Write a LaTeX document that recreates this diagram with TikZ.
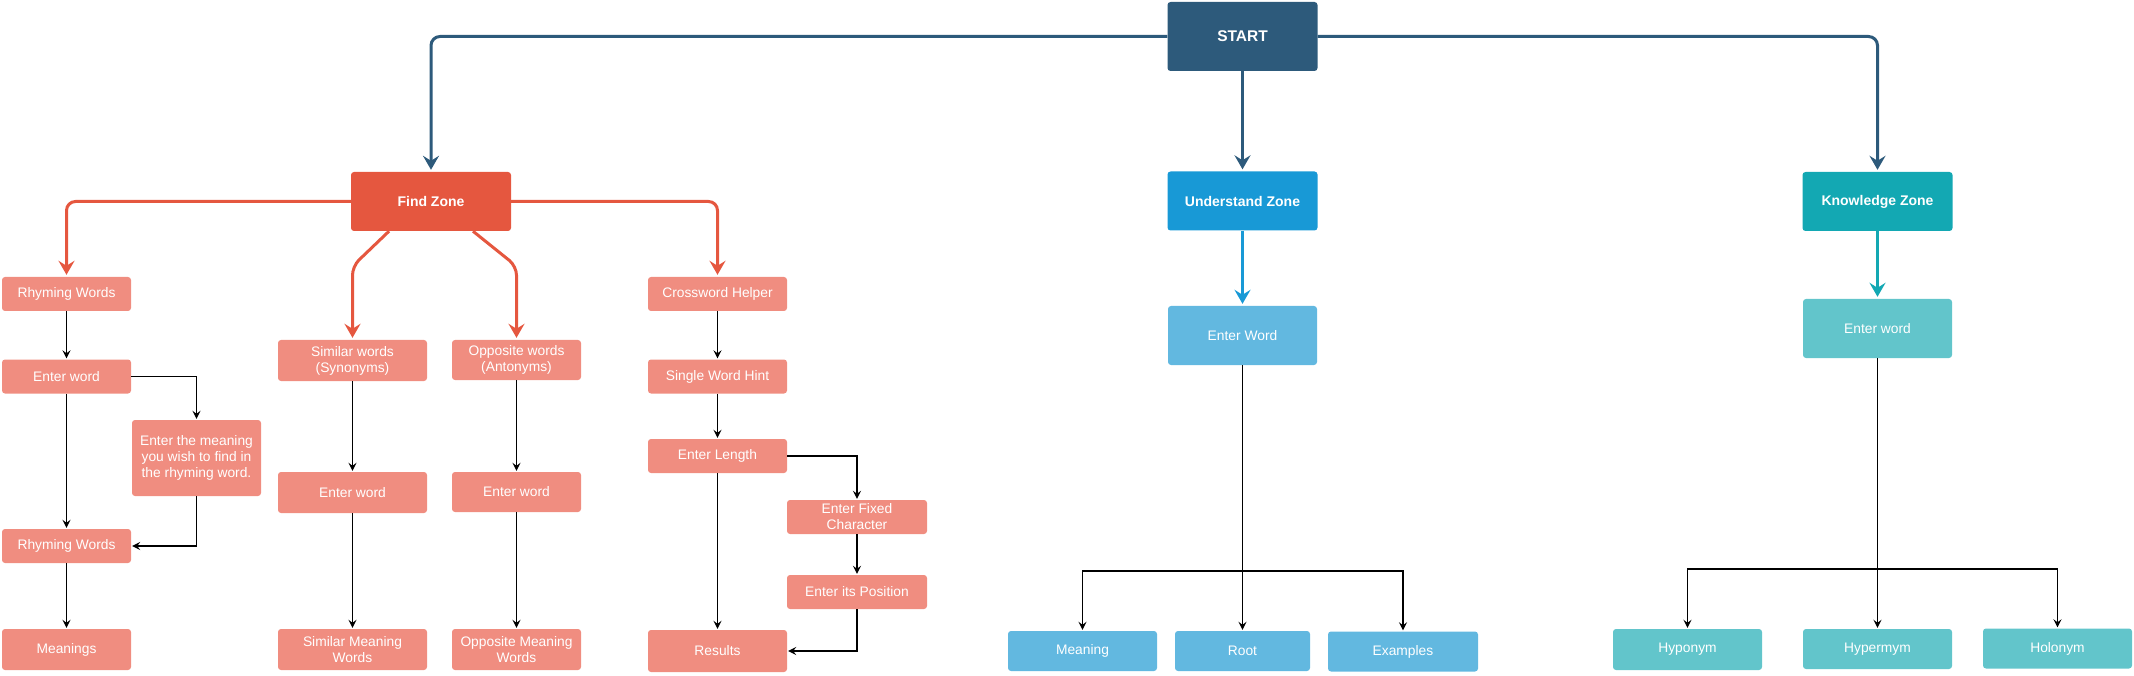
\documentclass[tikz,border=0pt]{standalone}
\usepackage{fontspec}
\setmainfont{Liberation Sans}
\usetikzlibrary{arrows.meta}

\definecolor{startblue}{HTML}{2D5A7B}
\definecolor{findred}{HTML}{E5573F}
\definecolor{findlight}{HTML}{F08D80}
\definecolor{undblue}{HTML}{1899D6}
\definecolor{undlight}{HTML}{62B8E0}
\definecolor{knowteal}{HTML}{13A8B3}
\definecolor{knowlight}{HTML}{62C5CB}

\tikzset{
	box/.style={rectangle, rounded corners=3pt, inner sep=0pt, text=white, align=center,
		font=\fontsize{13.8}{16}\selectfont},
	zone/.style={box, minimum width=150pt, minimum height=59pt,
		font=\bfseries\fontsize{14}{16}\selectfont},
	findbox/.style={box, fill=findlight},
	undbox/.style={box, fill=undlight},
	knowbox/.style={box, fill=knowlight},
	mainlink/.style={line width=3pt, rounded corners=9pt, shorten >=2pt,
		-{Stealth[length=14pt,width=16pt,inset=5pt]}},
	link/.style={line width=1.3pt, shorten >=1pt,
		-{Stealth[length=8pt,width=8pt,inset=3pt]}}
}

\begin{document}
\begin{tikzpicture}[x=1pt,y=-1pt]
	
	\useasboundingbox (0,0) rectangle (2134,676);

	% zones
	\node[zone, fill=startblue, font=\bfseries\fontsize{15.5}{18}\selectfont, minimum height=69pt] (start) at (1242.5,36.5) {START};
	\node[zone, fill=findred, minimum width=160pt] (find) at (431,201.5) {Find Zone};
	\node[zone, fill=undblue] (under) at (1242.5,201) {Understand Zone};
	\node[zone, fill=knowteal] (know) at (1877.5,201.5) {Knowledge Zone};

	% rhyming words
	\node[findbox, minimum width=129pt, minimum height=34pt] (rhyme1) at (66.5,294) {Rhyming Words};
	\node[findbox, minimum width=129pt, minimum height=34pt] (enter1) at (66.5,376.5) {Enter word};
	\node[findbox, minimum width=129pt, minimum height=76pt] (meanask) at (196.5,458) {Enter the meaning\\you wish to find in\\the rhyming word.};
	\node[findbox, minimum width=129pt, minimum height=34pt] (rhyme2) at (66.5,546) {Rhyming Words};
	\node[findbox, minimum width=129pt, minimum height=41pt] (meanings) at (66.5,649.5) {Meanings};

	% synonyms
	\node[findbox, minimum width=149pt, minimum height=41pt] (syn) at (352.5,360.5) {Similar words\\(Synonyms)};
	\node[findbox, minimum width=149pt, minimum height=41pt] (enter2) at (352.5,492.5) {Enter word};
	\node[findbox, minimum width=149pt, minimum height=41pt] (simmean) at (352.5,649.5) {Similar Meaning\\Words};

	% antonyms
	\node[findbox, minimum width=129pt, minimum height=40pt] (ant) at (516.5,360) {Opposite words\\(Antonyms)};
	\node[findbox, minimum width=129pt, minimum height=40pt] (enter3) at (516.5,492) {Enter word};
	\node[findbox, minimum width=129pt, minimum height=41pt] (oppmean) at (516.5,649.5) {Opposite Meaning\\Words};

	% crossword
	\node[findbox, minimum width=139pt, minimum height=34pt] (cross) at (717.5,294) {Crossword Helper};
	\node[findbox, minimum width=139pt, minimum height=34pt] (hint) at (717.5,376.5) {Single Word Hint};
	\node[findbox, minimum width=139pt, minimum height=34pt] (length) at (717.5,456) {Enter Length};
	\node[findbox, minimum width=140pt, minimum height=34pt] (fixed) at (857,517) {Enter Fixed\\Character};
	\node[findbox, minimum width=140pt, minimum height=34pt] (position) at (857,592) {Enter its Position};
	\node[findbox, minimum width=139pt, minimum height=42pt] (results) at (717.5,651) {Results};

	% understand
	\node[undbox, minimum width=149pt, minimum height=59pt] (uword) at (1242.5,335.5) {Enter Word};
	\node[undbox, minimum width=149pt, minimum height=40pt] (meaning) at (1082.5,651) {Meaning};
	\node[undbox, minimum width=135pt, minimum height=40pt] (root) at (1242.5,651) {Root};
	\node[undbox, minimum width=150pt, minimum height=40pt] (examples) at (1403,651.5) {Examples};
	\coordinate (ubr) at (1242.5,571);

	% knowledge
	\node[knowbox, minimum width=149pt, minimum height=59pt] (kword) at (1877.5,328.5) {Enter word};
	\node[knowbox, minimum width=149pt, minimum height=41pt] (hypo) at (1687.5,649.5) {Hyponym};
	\node[knowbox, minimum width=149pt, minimum height=40pt] (hyper) at (1877.5,649) {Hypermym};
	\node[knowbox, minimum width=149pt, minimum height=40pt] (holo) at (2057.5,648.5) {Holonym};
	\coordinate (kbr) at (1877.5,569);

	% start links
	\draw[mainlink, startblue] (start.west) -| (find.north);
	\draw[mainlink, startblue] (start.east) -| (know.north);
	\draw[mainlink, startblue] (start.south) -- (under.north);

	% find links
	\draw[mainlink, findred] (find.west) -| (rhyme1.north);
	\draw[mainlink, findred] (find.east) -| (cross.north);
	\draw[mainlink, findred] ([xshift=-42pt]find.south) -- ++(-36.5,35) -- (syn.north);
	\draw[mainlink, findred] ([xshift=42pt]find.south) -- ++(43.5,35) -- (ant.north);

	% zone to word
	\draw[mainlink, undblue] (under) -- (uword);
	\draw[mainlink, knowteal] (know) -- (kword);

	% rhyming steps
	\draw[link] (rhyme1) -- (enter1);
	\draw[link] (enter1.east) -| (meanask.north);
	\draw[link] (meanask.south) |- (rhyme2.east);
	\draw[link] (enter1) -- (rhyme2);
	\draw[link] (rhyme2) -- (meanings);

	% synonym and antonym steps
	\draw[link] (syn) -- (enter2);
	\draw[link] (enter2) -- (simmean);
	\draw[link] (ant) -- (enter3);
	\draw[link] (enter3) -- (oppmean);

	% crossword steps
	\draw[link] (cross) -- (hint);
	\draw[link] (hint) -- (length);
	\draw[link] (length.east) -| (fixed.north);
	\draw[link] (fixed) -- (position);
	\draw[link] (position.south) |- (results.east);
	\draw[link] (length) -- (results);

	% understand steps
	\draw[link] (uword) -- (root);
	\draw[link] (ubr) -| (meaning.north);
	\draw[link] (ubr) -| (examples.north);

	% knowledge steps
	\draw[link] (kword) -- (hyper);
	\draw[link] (kbr) -| (hypo.north);
	\draw[link] (kbr) -| (holo.north);

\end{tikzpicture}
\end{document}
